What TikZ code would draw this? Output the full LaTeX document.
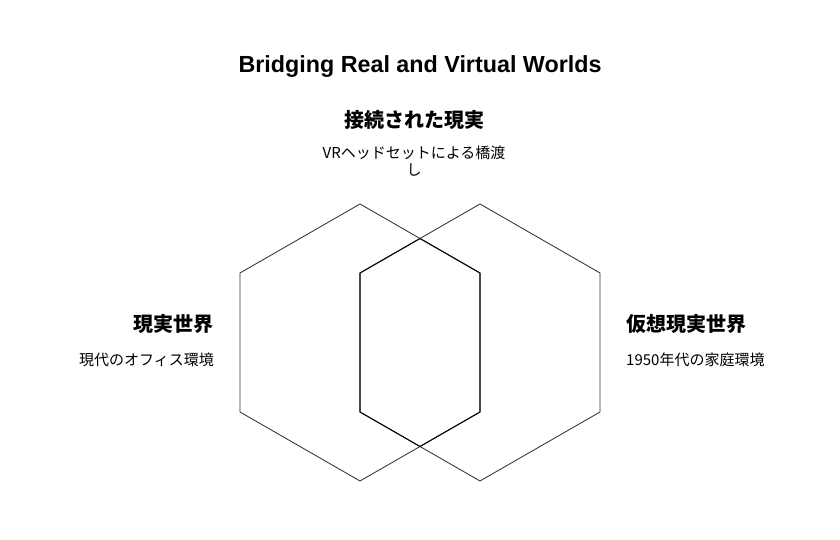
\documentclass[tikz,border=0pt]{standalone}
\usepackage{fontspec}
\setmainfont{Liberation Sans}
\newfontfamily\jpfont{Noto Sans CJK JP}
\begin{document}
\begin{tikzpicture}[x=1pt,y=-1pt,
  hexline/.style={draw=black!80, line width=0.85pt, line join=miter},
  overlapline/.style={draw=black!95, line width=1.1pt, line join=miter},
  titletext/.style={font=\fontsize{23.3}{28}\selectfont\bfseries, inner sep=0pt},
  headtext/.style={font=\jpfont\fontsize{20}{24}\selectfont\bfseries, inner sep=0pt},
  subtext/.style={font=\jpfont\fontsize{15}{17.5}\selectfont, inner sep=0pt}]
\useasboundingbox (0,0) rectangle (840,540);
% hexagons: real world (left) and virtual world (right)
\draw[hexline] (360,204) -- (480,273) -- (480,412) -- (360,481) -- (240,412) -- (240,273) -- cycle;
\draw[hexline] (480,204) -- (600,273) -- (600,412) -- (480,481) -- (360,412) -- (360,273) -- cycle;
% overlap region, where both outlines coincide
\draw[overlapline] (420,238.5) -- (480,273) -- (480,412) -- (420,446.5) -- (360,412) -- (360,273) -- cycle;
% texts
\node[titletext, anchor=base] (title) at (420,73) {Bridging Real and Virtual Worlds};
\node[headtext] (tophead) at (414,120) {接続された現実};
\node[subtext, align=center] (topsub) at (414,161) {VRヘッドセットによる橋渡\\し};
\node[headtext, anchor=east] (lefthead) at (214,324) {現実世界};
\node[subtext, anchor=east] (leftsub) at (214,360) {現代のオフィス環境};
\node[headtext, anchor=west] (righthead) at (626,324) {仮想現実世界};
\node[subtext, anchor=west] (rightsub) at (626,360) {1950年代の家庭環境};
\end{tikzpicture}
\end{document}
